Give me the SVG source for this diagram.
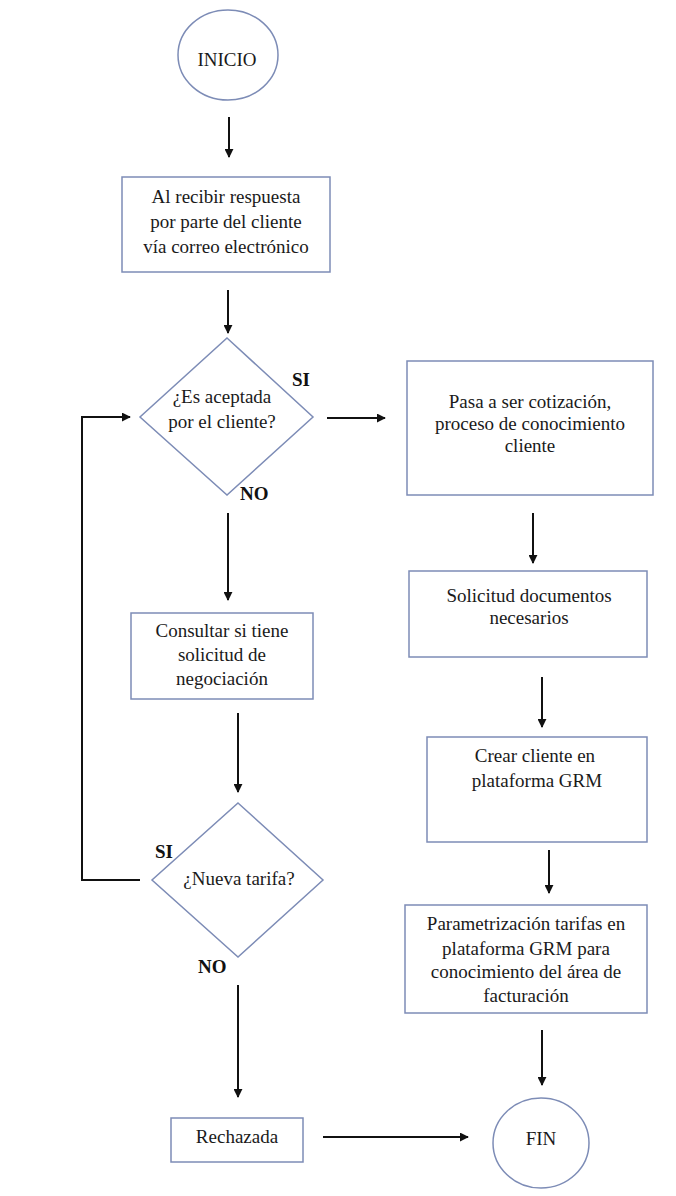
<svg xmlns="http://www.w3.org/2000/svg" width="676" height="1196" viewBox="0 0 676 1196">
  <defs>
    <marker id="arrow" viewBox="0 0 10 10" refX="9" refY="5" markerWidth="4.5" markerHeight="4.5" orient="auto" markerUnits="strokeWidth">
      <path d="M0,0 L10,5 L0,10 z" fill="#111"/>
    </marker>
    <style>
      .shape { fill: #ffffff; stroke: #7d8cb6; stroke-width: 1.5; }
      text { font-family: "Times New Roman", "Liberation Serif", Times, "DejaVu Serif", "Noto Serif", serif; }
      .label { font-size: 19px; fill: #1a1a1a; text-anchor: middle; }
      .tag { font-size: 19px; font-weight: bold; fill: #111; }
      .edge { fill: none; stroke: #111; stroke-width: 2; }
    </style>
  </defs>
  <rect width="676" height="1196" fill="#ffffff"/>

  <!-- start -->
  <g id="inicio">
    <ellipse class="shape" cx="228" cy="55" rx="50" ry="45"/>
    <text class="label" x="227" y="66">INICIO</text>
  </g>

  <!-- left column -->
  <g id="recibir">
    <rect class="shape" x="122" y="177" width="208" height="95"/>
    <text class="label" x="226" y="203">Al recibir respuesta</text>
    <text class="label" x="226" y="228">por parte del cliente</text>
    <text class="label" x="226" y="253">vía correo electrónico</text>
  </g>

  <g id="aceptada">
    <polygon class="shape" points="227,338 313,417 227,495 140,417"/>
    <text class="label" x="222" y="403">¿Es aceptada</text>
    <text class="label" x="222" y="428">por el cliente?</text>
    <text class="tag" x="292" y="386">SI</text>
    <text class="tag" x="240" y="500">NO</text>
  </g>

  <g id="consultar">
    <rect class="shape" x="131" y="613" width="182" height="86"/>
    <text class="label" x="222" y="637">Consultar si tiene</text>
    <text class="label" x="222" y="661">solicitud de</text>
    <text class="label" x="222" y="685">negociación</text>
  </g>

  <g id="nueva-tarifa">
    <polygon class="shape" points="238,803 323,880 238,957 152,880"/>
    <text class="label" x="239" y="885">¿Nueva tarifa?</text>
    <text class="tag" x="155" y="858">SI</text>
    <text class="tag" x="198" y="973">NO</text>
  </g>

  <g id="rechazada">
    <rect class="shape" x="171" y="1118" width="132" height="44"/>
    <text class="label" x="237" y="1143">Rechazada</text>
  </g>

  <!-- right column -->
  <g id="cotizacion">
    <rect class="shape" x="407" y="361" width="246" height="134"/>
    <text class="label" x="530" y="408">Pasa a ser cotización,</text>
    <text class="label" x="530" y="430">proceso de conocimiento</text>
    <text class="label" x="530" y="452">cliente</text>
  </g>

  <g id="documentos">
    <rect class="shape" x="409" y="571" width="238" height="86"/>
    <text class="label" x="529" y="602">Solicitud documentos</text>
    <text class="label" x="529" y="624">necesarios</text>
  </g>

  <g id="crear-cliente">
    <rect class="shape" x="427" y="737" width="220" height="105"/>
    <text class="label" x="535" y="762">Crear cliente en</text>
    <text class="label" x="537" y="787">plataforma GRM</text>
  </g>

  <g id="parametrizacion">
    <rect class="shape" x="405" y="905" width="242" height="108"/>
    <text class="label" x="526" y="930">Parametrización tarifas en</text>
    <text class="label" x="526" y="955">plataforma GRM para</text>
    <text class="label" x="526" y="978">conocimiento del área de</text>
    <text class="label" x="526" y="1002">facturación</text>
  </g>

  <g id="fin">
    <ellipse class="shape" cx="541" cy="1143" rx="48" ry="45"/>
    <text class="label" x="541" y="1145">FIN</text>
  </g>

  <!-- connectors -->
  <g id="connectors">
    <line class="edge" x1="229" y1="117" x2="229" y2="157" marker-end="url(#arrow)"/>
    <line class="edge" x1="228" y1="290" x2="228" y2="333" marker-end="url(#arrow)"/>
    <line class="edge" x1="327" y1="418" x2="385" y2="418" marker-end="url(#arrow)"/>
    <line class="edge" x1="228" y1="513" x2="228" y2="600" marker-end="url(#arrow)"/>
    <line class="edge" x1="238" y1="713" x2="238" y2="792" marker-end="url(#arrow)"/>
    <polyline class="edge" points="140,880 82,880 82,417 130,417" marker-end="url(#arrow)"/>
    <line class="edge" x1="238" y1="985" x2="238" y2="1097" marker-end="url(#arrow)"/>
    <line class="edge" x1="323" y1="1137" x2="468" y2="1137" marker-end="url(#arrow)"/>
    <line class="edge" x1="533" y1="513" x2="533" y2="563" marker-end="url(#arrow)"/>
    <line class="edge" x1="542" y1="677" x2="542" y2="727" marker-end="url(#arrow)"/>
    <line class="edge" x1="549" y1="850" x2="549" y2="893" marker-end="url(#arrow)"/>
    <line class="edge" x1="542" y1="1030" x2="542" y2="1085" marker-end="url(#arrow)"/>
  </g>
</svg>
